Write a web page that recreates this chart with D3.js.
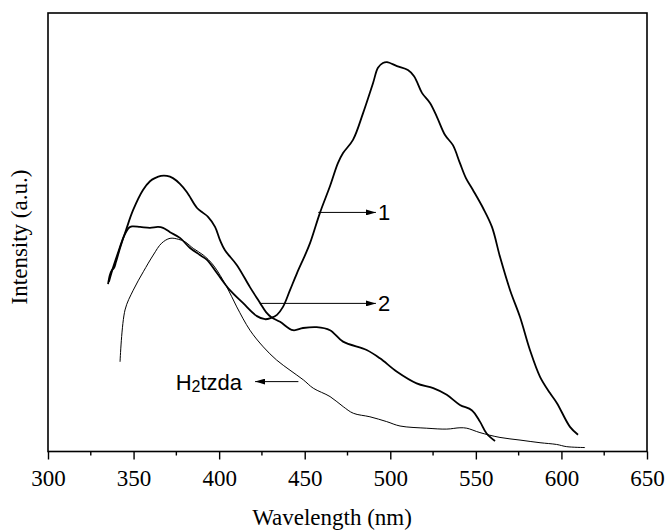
<!DOCTYPE html>
<html>
<head>
<meta charset="utf-8">
<script src="https://cdn.jsdelivr.net/npm/d3@7"></script>
<style>
  body { margin: 0; background: #fff; }
  svg { display: block; }
</style>
</head>
<body>
<script>
const w = 666;
const h = 530;

// wavelength (nm), intensity (a.u.)
const curve1Wl = [335.6, 337.4, 340.9, 344.4, 347.3, 349.1, 353.8, 359.6, 364.3, 367.2, 371.3, 377.1, 383.0, 388.8, 392.9, 398.7, 406.3, 413.9, 422.1, 426.8, 430.3, 433.8, 437.3, 441.4, 445.5, 450.2, 453.1, 458.9, 464.8, 469.4, 472.4, 478.2, 484.1, 489.9, 492.8, 495.7, 498.1, 503.9, 510.3, 513.9, 515.6, 518.5, 523.2, 527.3, 532.0, 536.6, 540.7, 544.2, 548.3, 554.2, 559.4, 564.1, 570.0, 575.8, 581.6, 587.5, 593.3, 597.4, 605.0, 609.7];
const curve1Int = [38.6, 41.1, 45.2, 49.0, 50.9, 51.2, 51.1, 50.9, 51.1, 50.9, 49.9, 48.6, 46.3, 44.7, 43.6, 40.6, 36.7, 33.8, 30.8, 30.1, 30.4, 31.1, 32.9, 36.7, 40.6, 44.7, 47.4, 54.3, 60.4, 65.6, 67.9, 70.9, 77.0, 83.8, 87.3, 88.4, 88.6, 87.7, 86.8, 85.4, 84.1, 81.6, 79.3, 76.1, 72.0, 69.7, 65.6, 62.2, 59.5, 55.4, 51.1, 44.3, 36.7, 30.6, 23.1, 17.0, 13.3, 11.0, 5.6, 3.8];

const curve2Wl = [335.1, 336.2, 337.4, 338.6, 339.7, 342.1, 345.6, 349.7, 355.5, 359.6, 362.5, 366.0, 369.5, 373.0, 377.1, 381.2, 387.1, 390.6, 393.5, 397.6, 400.5, 403.4, 410.4, 418.0, 423.9, 427.4, 430.3, 435.6, 443.2, 449.0, 457.0, 464.8, 472.4, 486.2, 494.0, 503.7, 515.4, 525.1, 533.0, 540.7, 547.6, 552.4, 556.3, 561.2];
const curve2Int = [38.1, 40.2, 41.3, 41.8, 43.1, 46.3, 50.4, 54.9, 59.5, 61.5, 62.2, 62.7, 62.7, 62.2, 60.9, 59.0, 55.4, 54.3, 53.4, 51.1, 48.1, 45.8, 42.4, 37.4, 33.8, 31.7, 30.6, 29.5, 27.6, 28.1, 28.3, 27.6, 25.0, 23.1, 21.2, 18.2, 15.5, 14.4, 12.9, 10.6, 9.4, 6.8, 4.1, 2.4];

const ligandWl = [342.1, 345.0, 349.8, 355.7, 361.5, 366.4, 371.3, 376.1, 380.1, 384.9, 390.7, 396.6, 404.4, 410.3, 418.0, 425.8, 433.6, 441.4, 449.2, 455.0, 464.8, 472.5, 478.4, 488.1, 497.9, 505.7, 521.3, 533.0, 540.7, 544.7, 552.4, 564.1, 575.8, 587.5, 597.2, 603.1, 613.8];
const ligandInt = [20.4, 32.2, 36.7, 40.9, 44.7, 47.4, 48.5, 48.3, 47.7, 46.2, 44.7, 42.4, 37.5, 32.9, 27.6, 23.8, 20.8, 18.5, 16.3, 14.4, 12.5, 10.2, 8.7, 7.9, 6.8, 5.8, 5.3, 5.1, 5.4, 5.3, 4.3, 3.2, 2.6, 2.0, 1.6, 1.1, 0.9];

const xTicks = [300, 350, 400, 450, 500, 550, 600, 650];
const xMinorTicks = [325, 375, 425, 475, 525, 575, 625];

// labels with arrows: from wl, to wl, intensity, text
const arrowNames = ["1", "2", "H2tzda"];
const arrowFrom = [457.9, 423.9, 446.3];
const arrowTo = [491.6, 491.6, 421.0];
const arrowInt = [54.4, 33.7, 15.9];

const mLeft = 48, mRight = 647, mTop = 13, mBottom = 451.5;

const xScale = d3.scaleLinear().domain([300, 650]).range([mLeft, mRight]);
const yScale = d3.scaleLinear().domain([0, 100]).range([mBottom, 12]);

const svg = d3.select("body")
    .append("svg")
    .attr("width", w)
    .attr("height", h)
    ;

svg.append("defs")
    .append("marker")
    .attr("id", "head")
    .attr("viewBox", "0 0 10 6")
    .attr("refX", 10)
    .attr("refY", 3)
    .attr("markerWidth", 10)
    .attr("markerHeight", 6)
    .attr("markerUnits", "userSpaceOnUse")
    .attr("orient", "auto")
    .append("path")
    .attr("d", "M0,0 L10,3 L0,6 Z")
    .attr("fill", "#000")
    ;

const line = d3.line()
    .x(d => xScale(d[0]))
    .y(d => yScale(d[1]))
    .curve(d3.curveCatmullRom.alpha(0.5))
    ;

const series = [
    { wl: curve1Wl, val: curve1Int, width: 1.8 },
    { wl: curve2Wl, val: curve2Int, width: 1.8 },
    { wl: ligandWl, val: ligandInt, width: 1 },
];

series.forEach(s => {
    svg.append("path")
        .datum(s.wl.map((x, i) => [x, s.val[i]]))
        .attr("d", line)
        .attr("fill", "none")
        .attr("stroke", "#000")
        .attr("stroke-width", s.width)
        .attr("stroke-linejoin", "round")
        ;
});

// frame
svg.append("rect")
    .attr("x", mLeft)
    .attr("y", mTop)
    .attr("width", mRight - mLeft)
    .attr("height", mBottom - mTop)
    .attr("fill", "none")
    .attr("stroke", "#000")
    .attr("stroke-width", 1.6)
    ;

const xAxis = d3.axisBottom(xScale)
    .tickValues(xTicks)
    .tickSize(8)
    .tickPadding(10)
    .tickFormat(d3.format("d"))
    ;

const gx = svg.append("g")
    .attr("transform", "translate(0, " + mBottom + ")")
    .call(xAxis)
    ;
gx.select(".domain").remove();
gx.selectAll("line").attr("stroke-width", 1.4);
gx.selectAll("text")
    .attr("font-family", "'Liberation Serif', 'Times New Roman', serif")
    .attr("font-size", 23)
    .attr("fill", "#000")
    ;

svg.append("g")
    .selectAll("line")
    .data(xMinorTicks)
    .enter()
    .append("line")
    .attr("x1", d => xScale(d))
    .attr("x2", d => xScale(d))
    .attr("y1", mBottom)
    .attr("y2", mBottom + 4)
    .attr("stroke", "#000")
    .attr("stroke-width", 1.4)
    ;

svg.append("text")
    .attr("x", 332)
    .attr("y", 525)
    .attr("text-anchor", "middle")
    .attr("font-family", "'Liberation Serif', 'Times New Roman', serif")
    .attr("font-size", 23)
    .text("Wavelength (nm)")
    ;

svg.append("text")
    .attr("transform", "translate(27, 237) rotate(-90)")
    .attr("text-anchor", "middle")
    .attr("font-family", "'Liberation Serif', 'Times New Roman', serif")
    .attr("font-size", 23)
    .text("Intensity (a.u.)")
    ;

// annotation arrows
arrowNames.forEach((name, i) => {
    svg.append("line")
        .attr("x1", xScale(arrowFrom[i]))
        .attr("x2", xScale(arrowTo[i]))
        .attr("y1", yScale(arrowInt[i]))
        .attr("y2", yScale(arrowInt[i]))
        .attr("stroke", "#000")
        .attr("stroke-width", 1)
        .attr("marker-end", "url(#head)")
        ;
    const goesRight = arrowTo[i] > arrowFrom[i];
    const t = svg.append("text")
        .attr("x", xScale(arrowTo[i]) + (goesRight ? 2 : -13))
        .attr("y", yScale(arrowInt[i]) + 8)
        .attr("text-anchor", goesRight ? "start" : "end")
        .attr("font-family", "'Liberation Sans', Arial, sans-serif")
        .attr("font-size", 22)
        ;
    if (name == "H2tzda") {
        t.append("tspan").text("H");
        t.append("tspan").attr("font-size", 16).attr("dy", 2).text("2");
        t.append("tspan").attr("dy", -2).text("tzda");
    } else {
        t.text(name);
    }
});
</script>
</body>
</html>
